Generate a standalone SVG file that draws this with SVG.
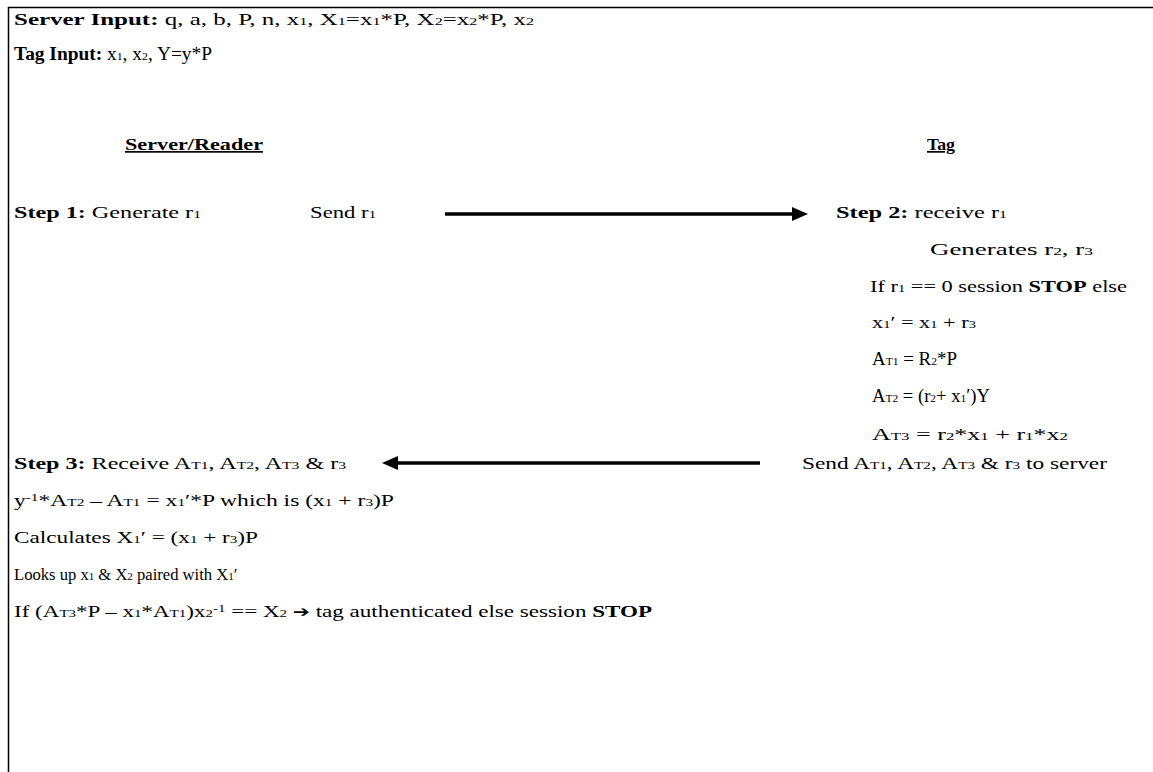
<svg xmlns="http://www.w3.org/2000/svg" width="1153" height="772" viewBox="0 0 1153 772">
<style>
text{font-family:"Liberation Serif","Times New Roman",serif;font-size:17px;fill:#000}
text.t{font-size:18px}
text.lk{font-size:16.6px}
.b{font-weight:bold}
.s{font-size:11px}
.u{font-weight:bold;text-decoration:underline}
.arr{stroke:#000;stroke-width:3.5;fill:none}
</style>
<defs>
<marker id="ah" markerUnits="userSpaceOnUse" markerWidth="16" markerHeight="14" refX="2" refY="7" orient="auto">
<path d="M0,0 L16,7 L0,14 z" fill="#000"/>
</marker>
</defs>
<rect x="8.5" y="7.5" width="1200" height="800" fill="#fff" stroke="#000" stroke-width="1.5"/>
<g id="inputs">
<text x="14" y="25" textLength="520" lengthAdjust="spacingAndGlyphs"><tspan class="b">Server Input:</tspan> q, a, b, P, n, x<tspan class="s">1</tspan>, X<tspan class="s">1</tspan>=x<tspan class="s">1</tspan>*P, X<tspan class="s">2</tspan>=x<tspan class="s">2</tspan>*P, x<tspan class="s">2</tspan></text>
<text class="t" x="14" y="60" textLength="198" lengthAdjust="spacingAndGlyphs"><tspan class="b">Tag Input:</tspan> x<tspan class="s">1</tspan>, x<tspan class="s">2</tspan>, Y=y*P</text>
</g>
<g id="server">
<text x="125" y="150" class="u" textLength="138" lengthAdjust="spacingAndGlyphs">Server/Reader</text>
<text x="14" y="218" textLength="187" lengthAdjust="spacingAndGlyphs"><tspan class="b">Step 1:</tspan> Generate r<tspan class="s">1</tspan></text>
<text x="310" y="218" textLength="66" lengthAdjust="spacingAndGlyphs">Send r<tspan class="s">1</tspan></text>
<text x="14" y="469" textLength="332" lengthAdjust="spacingAndGlyphs"><tspan class="b">Step 3:</tspan> Receive A<tspan class="s">T1</tspan>, A<tspan class="s">T2</tspan>, A<tspan class="s">T3</tspan> &amp; r<tspan class="s">3</tspan></text>
<text x="14" y="506" textLength="380" lengthAdjust="spacingAndGlyphs">y<tspan class="s" dy="-5">-1</tspan><tspan dy="5">*A</tspan><tspan class="s">T2</tspan> – A<tspan class="s">T1</tspan> = x<tspan class="s">1</tspan>′*P which is (x<tspan class="s">1</tspan> + r<tspan class="s">3</tspan>)P</text>
<text x="14" y="543" textLength="244" lengthAdjust="spacingAndGlyphs">Calculates X<tspan class="s">1</tspan>′ = (x<tspan class="s">1</tspan> + r<tspan class="s">3</tspan>)P</text>
<text class="lk" x="14" y="580">Looks up x<tspan class="s">1</tspan> &amp; X<tspan class="s">2</tspan> paired with X<tspan class="s">1</tspan>′</text>
<text x="14" y="617" textLength="638" lengthAdjust="spacingAndGlyphs">If (A<tspan class="s">T3</tspan>*P – x<tspan class="s">1</tspan>*A<tspan class="s">T1</tspan>)x<tspan class="s">2</tspan><tspan class="s" dy="-5">-1</tspan><tspan dy="5"> == X</tspan><tspan class="s">2</tspan> <tspan style="font-family:'DejaVu Sans',sans-serif;font-size:15px">➔</tspan> tag authenticated else session <tspan class="b">STOP</tspan></text>
</g>
<g id="tag">
<text x="927" y="150" class="u" textLength="28" lengthAdjust="spacingAndGlyphs">Tag</text>
<text x="836" y="218" textLength="171" lengthAdjust="spacingAndGlyphs"><tspan class="b">Step 2:</tspan> receive r<tspan class="s">1</tspan></text>
<text x="930" y="255" textLength="163" lengthAdjust="spacingAndGlyphs">Generates r<tspan class="s">2</tspan>, r<tspan class="s">3</tspan></text>
<text x="870" y="292" textLength="257" lengthAdjust="spacingAndGlyphs">If r<tspan class="s">1</tspan> == 0 session <tspan class="b">STOP</tspan> else</text>
<text x="872" y="328" textLength="104" lengthAdjust="spacingAndGlyphs">x<tspan class="s">1</tspan>′ = x<tspan class="s">1</tspan> + r<tspan class="s">3</tspan></text>
<text class="t" x="872" y="365" textLength="85" lengthAdjust="spacingAndGlyphs">A<tspan class="s">T1</tspan> = R<tspan class="s">2</tspan>*P</text>
<text class="t" x="872" y="402" textLength="118" lengthAdjust="spacingAndGlyphs">A<tspan class="s">T2</tspan> = (r<tspan class="s">2</tspan>+ x<tspan class="s">1</tspan>′)Y</text>
<text x="872" y="440" textLength="196" lengthAdjust="spacingAndGlyphs">A<tspan class="s">T3</tspan> = r<tspan class="s">2</tspan>*x<tspan class="s">1</tspan> + r<tspan class="s">1</tspan>*x<tspan class="s">2</tspan></text>
<text x="802" y="469" textLength="305" lengthAdjust="spacingAndGlyphs">Send A<tspan class="s">T1</tspan>, A<tspan class="s">T2</tspan>, A<tspan class="s">T3</tspan> &amp; r<tspan class="s">3</tspan> to server</text>
</g>
<g id="connectors">
<line class="arr" x1="445" y1="214" x2="794" y2="214" marker-end="url(#ah)"/>
<line class="arr" x1="760" y1="463" x2="396" y2="463" marker-end="url(#ah)"/>
</g>
</svg>
